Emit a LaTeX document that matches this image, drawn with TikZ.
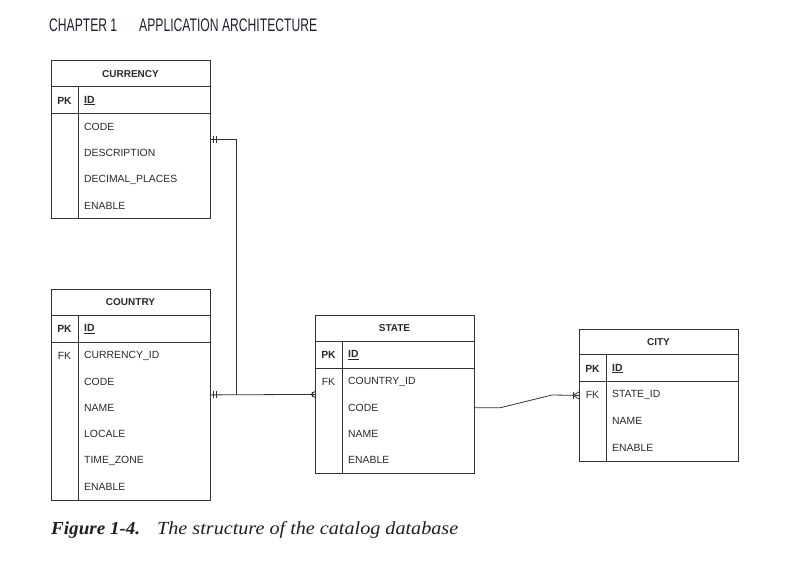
\documentclass[tikz,border=0pt]{standalone}
\usepackage{fontspec}
\setmainfont{Liberation Serif}
\newfontfamily\tabfont{Liberation Sans}
\newfontfamily\headfont{Liberation Sans}
\definecolor{linec}{HTML}{333333}
\definecolor{txtc}{HTML}{2A2A2A}
\definecolor{headc}{HTML}{1E2130}
\definecolor{capc}{HTML}{231F20}
\begin{document}
\begin{tikzpicture}[x=1pt,y=-1pt,
  tbl/.style={draw=linec, line width=0.8pt, inner sep=0pt, anchor=north west, minimum width=159pt},
  sep/.style={draw=linec, line width=0.8pt},
  conn/.style={draw=linec, line width=0.8pt},
  ttl/.style={font=\tabfont\fontsize{10}{12}\selectfont\bfseries, text=txtc, anchor=center, inner sep=0pt},
  fld/.style={font=\tabfont\fontsize{10.4}{12}\selectfont, text=txtc, anchor=west, inner sep=0pt},
  keyl/.style={font=\tabfont\fontsize{10.4}{12}\selectfont, text=txtc, anchor=center, inner sep=0pt},
  endmark/.style={draw=linec, line width=0.8pt}
]
\useasboundingbox (0,0) rectangle (796,568);
\fill[white] (0,0) rectangle (796,568);

% header
\node[anchor=base west, inner sep=0pt, text=headc] (hchap) at (49,31)
  {\resizebox{68pt}{12.7pt}{\headfont CHAPTER 1}};
\node[anchor=base west, inner sep=0pt, text=headc] (htitle) at (139,31)
  {\resizebox{178pt}{12.7pt}{\headfont APPLICATION ARCHITECTURE}};

% ---------------- CURRENCY
\node[tbl, minimum height=158pt] (currency) at (51,60) {};
\draw[sep] ([yshift=-26.5pt]currency.north west) -- ([yshift=-26.5pt]currency.north east);
\draw[sep] ([yshift=-53pt]currency.north west) -- ([yshift=-53pt]currency.north east);
\draw[sep] ([xshift=27pt,yshift=-26.5pt]currency.north west) -- ([xshift=27pt]currency.south west);
\node[ttl] (cuT) at (130.5,74) {CURRENCY};
\node[keyl] (cuPK) at (64.5,100.5) {\bfseries PK};
\node[fld] (cuID) at (84,100.5) {\bfseries\underline{ID}};
\node[fld] (cuCode) at (84,127) {CODE};
\node[fld] (cuDesc) at (84,153.3) {DESCRIPTION};
\node[fld] (cuDec) at (84,179.6) {DECIMAL\_PLACES};
\node[fld] (cuEn) at (84,205.9) {ENABLE};

% ---------------- COUNTRY
\node[tbl, minimum height=211pt] (country) at (51,289) {};
\draw[sep] ([yshift=-26.5pt]country.north west) -- ([yshift=-26.5pt]country.north east);
\draw[sep] ([yshift=-53pt]country.north west) -- ([yshift=-53pt]country.north east);
\draw[sep] ([xshift=27pt,yshift=-26.5pt]country.north west) -- ([xshift=27pt]country.south west);
\node[ttl] (coT) at (130.5,302.5) {COUNTRY};
\node[keyl] (coPK) at (64.5,329) {\bfseries PK};
\node[fld] (coID) at (84,329) {\bfseries\underline{ID}};
\node[keyl] (coFK) at (64.5,355.5) {FK};
\node[fld] (coCur) at (84,355.5) {CURRENCY\_ID};
\node[fld] (coCode) at (84,381.8) {CODE};
\node[fld] (coName) at (84,408.1) {NAME};
\node[fld] (coLoc) at (84,434.4) {LOCALE};
\node[fld] (coTz) at (84,460.7) {TIME\_ZONE};
\node[fld] (coEn) at (84,487) {ENABLE};

% ---------------- STATE
\node[tbl, minimum height=158pt] (state) at (315,315) {};
\draw[sep] ([yshift=-26.5pt]state.north west) -- ([yshift=-26.5pt]state.north east);
\draw[sep] ([yshift=-53pt]state.north west) -- ([yshift=-53pt]state.north east);
\draw[sep] ([xshift=27pt,yshift=-26.5pt]state.north west) -- ([xshift=27pt]state.south west);
\node[ttl] (stT) at (394.5,328.5) {STATE};
\node[keyl] (stPK) at (328.5,355) {\bfseries PK};
\node[fld] (stID) at (348,355) {\bfseries\underline{ID}};
\node[keyl] (stFK) at (328.5,381.5) {FK};
\node[fld] (stCtry) at (348,381.5) {COUNTRY\_ID};
\node[fld] (stCode) at (348,407.8) {CODE};
\node[fld] (stName) at (348,434.1) {NAME};
\node[fld] (stEn) at (348,460.4) {ENABLE};

% ---------------- CITY
\node[tbl, minimum height=132pt] (city) at (579,329) {};
\draw[sep] ([yshift=-25.5pt]city.north west) -- ([yshift=-25.5pt]city.north east);
\draw[sep] ([yshift=-52pt]city.north west) -- ([yshift=-52pt]city.north east);
\draw[sep] ([xshift=27pt,yshift=-25.5pt]city.north west) -- ([xshift=27pt]city.south west);
\node[ttl] (ciT) at (658.5,342) {CITY};
\node[keyl] (ciPK) at (592.5,368.5) {\bfseries PK};
\node[fld] (ciID) at (612,368.5) {\bfseries\underline{ID}};
\node[keyl] (ciFK) at (592.5,395) {FK};
\node[fld] (ciSt) at (612,395) {STATE\_ID};
\node[fld] (ciName) at (612,421.3) {NAME};
\node[fld] (ciEn) at (612,447.6) {ENABLE};

% ---------------- connectors
\coordinate (jn) at (236,395);
\coordinate (sc1) at (500,407.8);
\coordinate (sc2) at (552,395);
\draw[conn] (currency.east) -| (jn);
\draw[conn] (country.east) -- (state.west);
\draw[conn] (state.east |- stCode) -- (sc1) -- (sc2) -- (city.west);

% end marks
\draw[endmark] ([xshift=3pt,yshift=-3.5pt]currency.east) -- ([xshift=3pt,yshift=3.5pt]currency.east);
\draw[endmark] ([xshift=6pt,yshift=-3.5pt]currency.east) -- ([xshift=6pt,yshift=3.5pt]currency.east);
\draw[endmark] ([xshift=2.5pt,yshift=-3.5pt]country.east) -- ([xshift=2.5pt,yshift=3.5pt]country.east);
\draw[endmark] ([xshift=6pt,yshift=-3.5pt]country.east) -- ([xshift=6pt,yshift=3.5pt]country.east);
% crow's foot at state
\draw[endmark] ([xshift=-4pt]state.west) -- ([yshift=3pt]state.west);
\draw[endmark] ([xshift=-4pt]state.west) -- ([yshift=-3pt]state.west);
\draw[endmark] ([xshift=-3pt,yshift=-2.5pt]state.west) -- ([xshift=-3pt,yshift=2.5pt]state.west);
% crow's foot at city
\draw[endmark] ([xshift=-6pt,yshift=-3.5pt]city.west) -- ([xshift=-6pt,yshift=3.5pt]city.west);
\draw[endmark] ([xshift=-6pt]city.west) -- ([yshift=3.5pt]city.west);
\draw[endmark] ([xshift=-6pt]city.west) -- ([yshift=-3.5pt]city.west);

% caption
\node[anchor=base west, inner sep=0pt, text=capc] (capA) at (51,534)
  {\resizebox{89pt}{12.7pt}{\bfseries\itshape Figure 1-4.}};
\node[anchor=base west, inner sep=0pt, text=capc] (capB) at (157,534)
  {\resizebox{301pt}{13pt}{\itshape The structure of the catalog database}};
\end{tikzpicture}
\end{document}
